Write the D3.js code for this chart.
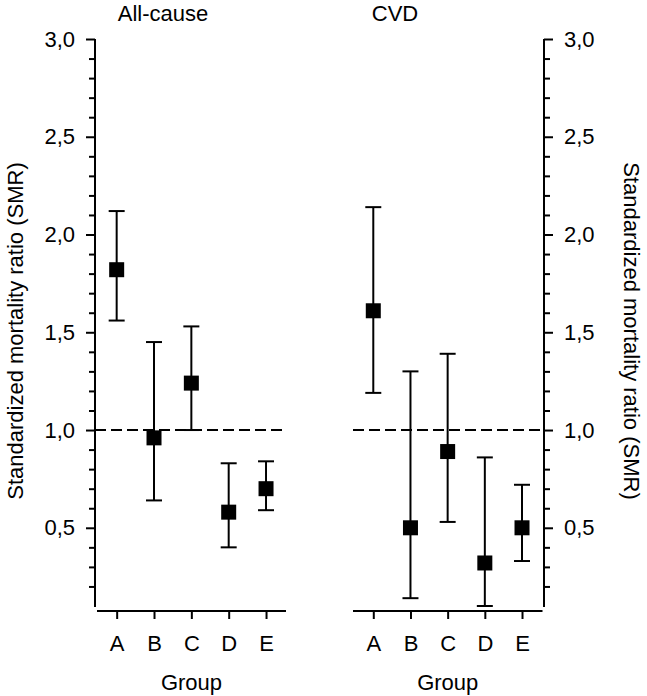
<!DOCTYPE html>
<html>
<head>
<meta charset="utf-8">
<script src="https://cdn.jsdelivr.net/npm/d3@7"></script>
<style>
  body { margin: 0; background: #fff; }
  text { font-family: "Liberation Sans", Arial, sans-serif; fill: #000; }
</style>
</head>
<body>
<div id="chart"></div>
<script>
  var groups = ['A', 'B', 'C', 'D', 'E'];

  // All-cause SMR with 95% CI
  var allCauseSMR   = [1.82, 0.96, 1.24, 0.58, 0.70];
  var allCauseLower = [1.56, 0.64, 1.00, 0.40, 0.59];
  var allCauseUpper = [2.12, 1.45, 1.53, 0.83, 0.84];

  // CVD SMR with 95% CI
  var cvdSMR   = [1.61, 0.50, 0.89, 0.32, 0.50];
  var cvdLower = [1.19, 0.14, 0.53, 0.10, 0.33];
  var cvdUpper = [2.14, 1.30, 1.39, 0.86, 0.72];

  var majorTicks = [0.5, 1.0, 1.5, 2.0, 2.5, 3.0];
  var minorTicks = [0.2, 0.3, 0.4, 0.6, 0.7, 0.8, 0.9, 1.1, 1.2, 1.3, 1.4, 1.6, 1.7, 1.8, 1.9,
                    2.1, 2.2, 2.3, 2.4, 2.6, 2.7, 2.8, 2.9];

  var width = 647, height = 696;
  var fmt = function (d) { return d3.format('.1f')(d).replace('.', ','); };

  var svg = d3.select('#chart').append('svg')
    .attr('width', width)
    .attr('height', height);

  var y = d3.scaleLinear().domain([0.1, 3.0]).range([606, 39]);

  function panel(opts) {
    var x = d3.scalePoint().domain(groups).range(opts.xRange).padding(0.5);
    var g = svg.append('g');

    // y axis
    var yAxis = opts.side === 'left' ? d3.axisLeft(y) : d3.axisRight(y);
    var yg = g.append('g')
      .attr('transform', 'translate(' + opts.yAxisX + ',0)')
      .call(yAxis.tickValues(majorTicks).tickFormat(fmt).tickSize(9).tickPadding(11));
    yg.select('.domain').attr('d', 'M0,' + y(3.0) + 'V' + 607);
    var yMinor = opts.side === 'left' ? d3.axisLeft(y) : d3.axisRight(y);
    g.append('g')
      .attr('transform', 'translate(' + opts.yAxisX + ',0)')
      .call(yMinor.tickValues(minorTicks).tickFormat('').tickSize(6))
      .select('.domain').remove();

    // x axis
    var xg = g.append('g')
      .attr('transform', 'translate(0,611)')
      .call(d3.axisBottom(x).tickSize(8).tickPadding(16));
    xg.select('.domain').attr('d', 'M' + opts.xLine[0] + ',0H' + opts.xLine[1]);

    g.selectAll('.domain, .tick line').attr('stroke', '#000').attr('stroke-width', 2);
    g.selectAll('.tick text').style('font-size', '22px').attr('fill', '#000');

    // reference line at SMR = 1
    g.append('line')
      .attr('x1', opts.dashX[0]).attr('x2', opts.dashX[1])
      .attr('y1', y(1)).attr('y2', y(1))
      .attr('stroke', '#000').attr('stroke-width', 2)
      .attr('stroke-dasharray', '11,5');

    // error bars
    var bars = g.append('g').selectAll('g')
      .data(groups)
      .join('g');
    bars.append('line')
      .attr('x1', function (d) { return x(d); })
      .attr('x2', function (d) { return x(d); })
      .attr('y1', function (d, i) { return y(opts.lower[i]); })
      .attr('y2', function (d, i) { return y(opts.upper[i]); })
      .attr('stroke', '#000').attr('stroke-width', 2);
    bars.append('line')
      .attr('x1', function (d) { return x(d) - 8; })
      .attr('x2', function (d) { return x(d) + 8; })
      .attr('y1', function (d, i) { return y(opts.upper[i]); })
      .attr('y2', function (d, i) { return y(opts.upper[i]); })
      .attr('stroke', '#000').attr('stroke-width', 2);
    bars.append('line')
      .attr('x1', function (d) { return x(d) - 8; })
      .attr('x2', function (d) { return x(d) + 8; })
      .attr('y1', function (d, i) { return y(opts.lower[i]); })
      .attr('y2', function (d, i) { return y(opts.lower[i]); })
      .attr('stroke', '#000').attr('stroke-width', 2);
    bars.append('rect')
      .attr('x', function (d) { return x(d) - 7.5; })
      .attr('y', function (d, i) { return y(opts.smr[i]) - 7.5; })
      .attr('width', 15).attr('height', 15)
      .attr('fill', '#000');

    // titles
    g.append('text')
      .attr('x', opts.titleX).attr('y', 21)
      .attr('text-anchor', 'middle')
      .style('font-size', '22px')
      .text(opts.title);
    g.append('text')
      .attr('x', (opts.xLine[0] + opts.xLine[1]) / 2).attr('y', 690)
      .attr('text-anchor', 'middle')
      .style('font-size', '22px')
      .text('Group');

    var rot = opts.side === 'left' ? -90 : 90;
    g.append('text')
      .attr('transform', 'translate(' + opts.yTitleX + ',331) rotate(' + rot + ')')
      .attr('text-anchor', 'middle')
      .attr('dy', '0.35em')
      .style('font-size', '22px')
      .text('Standardized mortality ratio (SMR)');
  }

  panel({
    side: 'left', title: 'All-cause', titleX: 163,
    xRange: [98, 284.7], xLine: [97, 286], yAxisX: 95, dashX: [95, 286], yTitleX: 15,
    smr: allCauseSMR, lower: allCauseLower, upper: allCauseUpper
  });

  panel({
    side: 'right', title: 'CVD', titleX: 395,
    xRange: [354.7, 540.6], xLine: [353, 542.5], yAxisX: 544, dashX: [353, 544], yTitleX: 632,
    smr: cvdSMR, lower: cvdLower, upper: cvdUpper
  });
</script>
</body>
</html>
